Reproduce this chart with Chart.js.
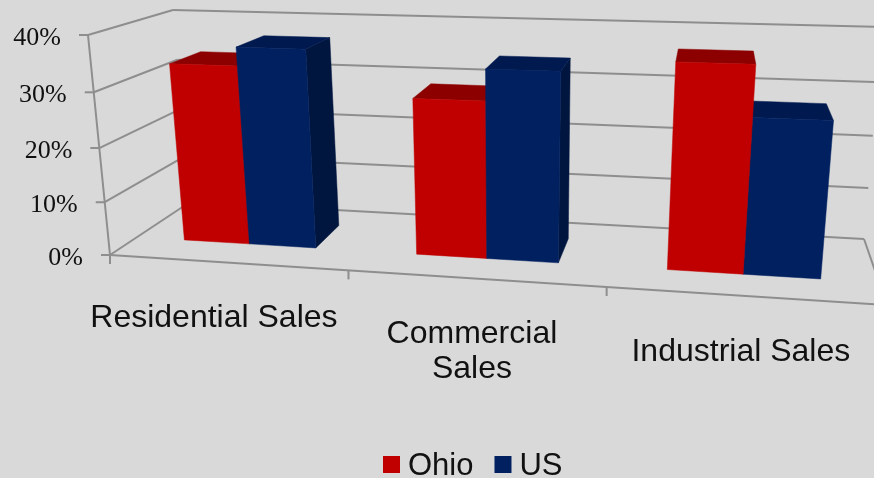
<!DOCTYPE html>
<html>
<head>
<meta charset="utf-8">
<style>
  html, body { margin: 0; padding: 0; background: #d9d9d9; overflow: hidden; }
  canvas { display: block; }
</style>
<script src="https://cdn.jsdelivr.net/npm/chart.js@4"></script>
</head>
<body>
<canvas id="chart" width="874" height="478"></canvas>
<script>
const categories = ['Residential Sales', ['Commercial', 'Sales'], 'Industrial Sales'];
const ohioValues = [33.5, 28.8, 36.6];
const usValues = [36.9, 34.4, 27.7];
const yMax = 40;
const yStep = 10;

// corners of the 3D box: bottom-left, bottom-right, top-right, top-left
const frontQuad = [[110, 255], [887, 305], [912, 58], [88, 35]];
const backQuad = [[190, 202], [864, 239], [882, 27], [173, 10]];
const barFront = 0.34;
const barBack = 0.74;
const labelShift = [-13, -3, -3];

const gridColor = '#8e8e8e';
const faceColors = {
  Ohio: { front: '#c00000', top: '#8c0000', side: '#800000' },
  US: { front: '#002060', top: '#001a50', side: '#00163f' }
};

// unit square to quad, the usual projective mapping
function makeHomography(q) {
  const [[x0, y0], [x1, y1], [x2, y2], [x3, y3]] = q;
  const dx1 = x1 - x2, dx2 = x3 - x2, sx = x0 - x1 + x2 - x3;
  const dy1 = y1 - y2, dy2 = y3 - y2, sy = y0 - y1 + y2 - y3;
  const den = dx1 * dy2 - dx2 * dy1;
  const g = (sx * dy2 - dx2 * sy) / den;
  const h = (dx1 * sy - sx * dy1) / den;
  const a = x1 - x0 + g * x1, b = x3 - x0 + h * x3;
  const d = y1 - y0 + g * y1, e = y3 - y0 + h * y3;
  return (u, v) => {
    const w = g * u + h * v + 1;
    return [(a * u + b * v + x0) / w, (d * u + e * v + y0) / w];
  };
}

const frontMap = makeHomography(frontQuad);
const backMap = makeHomography(backQuad);

function project(u, v, depth) {
  const f = frontMap(u, v), b = backMap(u, v);
  return [f[0] + (b[0] - f[0]) * depth, f[1] + (b[1] - f[1]) * depth];
}

function line(ctx, a, b) {
  ctx.beginPath();
  ctx.moveTo(a[0], a[1]);
  ctx.lineTo(b[0], b[1]);
  ctx.stroke();
}

function fillQuad(ctx, pts, color) {
  ctx.fillStyle = color;
  ctx.strokeStyle = color;
  ctx.lineWidth = 0.5;
  ctx.beginPath();
  pts.forEach((p, i) => i ? ctx.lineTo(p[0], p[1]) : ctx.moveTo(p[0], p[1]));
  ctx.closePath();
  ctx.fill();
  ctx.stroke();
}

function drawWalls(chart, ctx) {
  const yScale = chart.scales.y;
  const xScale = chart.scales.x;

  ctx.strokeStyle = gridColor;
  ctx.lineWidth = 2;

  // value gridlines on the back and left walls, plus ticks and labels on the axis
  ctx.font = "26px 'Liberation Serif'";
  ctx.fillStyle = '#111';
  ctx.textAlign = 'right';
  ctx.textBaseline = 'middle';
  yScale.ticks.forEach(t => {
    const v = t.value / yMax;
    const corner = project(0, v, 0);
    line(ctx, project(0, v, 1), project(1, v, 1));
    line(ctx, corner, project(0, v, 1));
    line(ctx, [corner[0] - 9, corner[1]], corner);
    ctx.fillText(t.label, corner[0] - 27, corner[1] + 3);
  });

  line(ctx, project(0, 0, 0), project(0, 1, 0));
  line(ctx, project(0, 0, 0), project(1, 0, 0));
  line(ctx, project(1, 0, 0), project(1, 0, 1));

  // category separators under the front edge, then the wrapped labels
  const n = categories.length;
  for (let i = 0; i <= n; i++) {
    const p = project(i / n, 0, 0);
    line(ctx, p, [p[0], p[1] + 9]);
  }
  ctx.font = "32px 'Liberation Sans'";
  ctx.textAlign = 'center';
  xScale.ticks.forEach((t, i) => {
    const p = project((i + 0.5) / n, 0, 0);
    const rows = [].concat(t.label);
    rows.forEach((row, r) => ctx.fillText(row, p[0] + labelShift[i], p[1] + 56 + r * 35));
  });
}

function drawBars(chart, ctx) {
  const area = chart.chartArea;
  const yScale = chart.scales.y;
  const bars = [];
  // vanishing point of the depth lines, from the left wall's edges
  const a1 = project(0, 0, 0), a2 = project(0, 0, 1), b1 = project(0, 1, 0), b2 = project(0, 1, 1);
  const ma = (a2[1] - a1[1]) / (a2[0] - a1[0]), mb = (b2[1] - b1[1]) / (b2[0] - b1[0]);
  const vanishX = (b1[1] - a1[1] + ma * a1[0] - mb * b1[0]) / (ma - mb);

  chart.data.datasets.forEach((ds, di) => {
    chart.getDatasetMeta(di).data.forEach(el => {
      const { x, y, width } = el.getProps(['x', 'y', 'width'], true);
      const u0 = (x - width / 2 - area.left) / area.width;
      const u1 = (x + width / 2 - area.left) / area.width;
      const v = yScale.getValueForPixel(y) / yMax;
      bars.push({ u0, u1, v, colors: faceColors[ds.label] });
    });
  });

  // painter's order, bars furthest from the viewer's column go first
  const centre = b => project((b.u0 + b.u1) / 2, 0, barFront)[0];
  bars.sort((p, q) => Math.abs(centre(q) - vanishX) - Math.abs(centre(p) - vanishX));

  bars.forEach(b => {
    const flb = project(b.u0, 0, barFront), frb = project(b.u1, 0, barFront);
    const frt = project(b.u1, b.v, barFront), flt = project(b.u0, b.v, barFront);
    const blb = project(b.u0, 0, barBack), brb = project(b.u1, 0, barBack);
    const brt = project(b.u1, b.v, barBack), blt = project(b.u0, b.v, barBack);
    if (brt[0] > frt[0]) fillQuad(ctx, [frb, brb, brt, frt], b.colors.side);
    if (blt[0] < flt[0]) fillQuad(ctx, [flb, blb, blt, flt], b.colors.side);
    fillQuad(ctx, [flt, frt, brt, blt], b.colors.top);
    fillQuad(ctx, [flb, frb, frt, flt], b.colors.front);
  });
}

function drawLegend(chart, ctx) {
  let x = 383;
  ctx.font = "31px 'Liberation Sans'";
  ctx.textAlign = 'left';
  ctx.textBaseline = 'middle';
  chart.data.datasets.forEach(ds => {
    ctx.fillStyle = ds.backgroundColor;
    ctx.fillRect(x, 456, 17, 17);
    ctx.fillStyle = '#111';
    ctx.fillText(ds.label, x + 25, 466);
    x += 25 + ctx.measureText(ds.label).width + 21;
  });
}

const perspectiveBars = {
  id: 'perspectiveBars',
  beforeDatasetsDraw(chart) {
    const ctx = chart.ctx;
    ctx.save();
    drawWalls(chart, ctx);
    drawBars(chart, ctx);
    drawLegend(chart, ctx);
    ctx.restore();
    return false;
  }
};

new Chart(document.getElementById('chart'), {
  type: 'bar',
  data: {
    labels: categories,
    datasets: [
      { label: 'Ohio', data: ohioValues, backgroundColor: faceColors.Ohio.front },
      { label: 'US', data: usValues, backgroundColor: faceColors.US.front }
    ]
  },
  options: {
    responsive: false,
    animation: false,
    layout: { padding: 0 },
    datasets: { bar: { barPercentage: 1, categoryPercentage: 0.575 } },
    plugins: {
      legend: { display: false },
      tooltip: { enabled: false }
    },
    scales: {
      x: { display: false, offset: true },
      y: {
        display: false,
        min: 0,
        max: yMax,
        ticks: { stepSize: yStep, callback: v => v + '%' }
      }
    }
  },
  plugins: [perspectiveBars]
});
</script>
</body>
</html>
